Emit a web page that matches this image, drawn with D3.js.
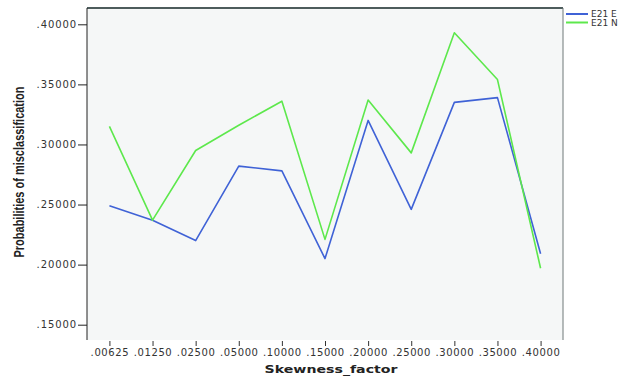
<!DOCTYPE html>
<html>
<head>
<meta charset="utf-8">
<script src="https://cdn.jsdelivr.net/npm/d3@7"></script>
<style>
  html, body { margin: 0; padding: 0; background: #ffffff; }
  svg { display: block; }
</style>
</head>
<body>
<svg id="chart" width="621" height="377"></svg>
<script>
// Skewness factor categories (x axis)
const categories = [".00625", ".01250", ".02500", ".05000", ".10000", ".15000",
                    ".20000", ".25000", ".30000", ".35000", ".40000"];

// Probabilities of misclassification per series
const seriesE = [0.249, 0.237, 0.220, 0.282, 0.278, 0.205, 0.320, 0.246, 0.335, 0.339, 0.209];
const seriesN = [0.315, 0.237, 0.295, 0.316, 0.336, 0.221, 0.337, 0.293, 0.393, 0.354, 0.197];

const seriesNames = ["E21 E", "E21 N"];
const seriesColors = ["#3f62d6", "#5de84c"];

// y axis ticks
const yTicks = [0.15, 0.20, 0.25, 0.30, 0.35, 0.40];

const svg = d3.select("#chart");

const frame = { left: 87, right: 563, top: 8, bottom: 340 };

const x = d3.scalePoint()
  .domain(categories)
  .range([frame.left, frame.right])
  .padding(0.52);

const y = d3.scaleLinear()
  .domain([0.15, 0.40])
  .range([324.7, 24.3]);

// plot background
svg.append("rect")
  .attr("x", frame.left)
  .attr("y", frame.top)
  .attr("width", frame.right - frame.left)
  .attr("height", frame.bottom - frame.top)
  .attr("fill", "#f5f7f7");

// frame edges
svg.append("line")
  .attr("x1", frame.left).attr("x2", frame.right)
  .attr("y1", frame.top).attr("y2", frame.top)
  .attr("stroke", "#4d5c5c").attr("stroke-width", 2);
svg.append("line")
  .attr("x1", frame.right).attr("x2", frame.right)
  .attr("y1", frame.top).attr("y2", frame.bottom)
  .attr("stroke", "#6e7878").attr("stroke-width", 1);

// y axis
const yAxis = d3.axisLeft(y)
  .tickValues(yTicks)
  .tickSize(9)
  .tickPadding(1)
  .tickFormat(d => d3.format(".5f")(d).replace(/^0/, ""));

const gy = svg.append("g")
  .attr("transform", `translate(${frame.left},0)`)
  .call(yAxis);
gy.select(".domain")
  .attr("d", `M0,${frame.top}V${frame.bottom}`)
  .attr("stroke", "#222");
gy.selectAll(".tick line").attr("stroke", "#222");
gy.selectAll(".tick text")
  .attr("font-family", "DejaVu Sans")
  .attr("font-size", 10)
  .attr("letter-spacing", 0.9)
  .attr("fill", "#333");

// x axis
const xAxis = d3.axisBottom(x)
  .tickSize(5)
  .tickPadding(3);

const gx = svg.append("g")
  .attr("transform", `translate(0,${frame.bottom + 1})`)
  .call(xAxis);
gx.select(".domain").remove();
gx.selectAll(".tick line").attr("stroke", "#333");
gx.selectAll(".tick text")
  .attr("font-family", "DejaVu Sans")
  .attr("font-size", 10)
  .attr("letter-spacing", 0.6)
  .attr("fill", "#333");

// axis titles
svg.append("text")
  .attr("x", 331)
  .attr("y", 373)
  .attr("text-anchor", "middle")
  .attr("font-family", "DejaVu Sans")
  .attr("font-weight", "bold")
  .attr("font-size", 11)
  .attr("textLength", 133)
  .attr("lengthAdjust", "spacingAndGlyphs")
  .attr("fill", "#222")
  .text("Skewness_factor");

svg.append("text")
  .attr("transform", "translate(24,172) rotate(-90)")
  .attr("text-anchor", "middle")
  .attr("font-family", "Liberation Sans Narrow, Liberation Sans")
  .attr("font-weight", "bold")
  .attr("font-size", 14)
  .attr("textLength", 171)
  .attr("lengthAdjust", "spacingAndGlyphs")
  .attr("fill", "#222")
  .text("Probabilities of misclassification");

// lines
const line = d3.line()
  .x((d, i) => x(categories[i]))
  .y(d => y(d));

[seriesE, seriesN].forEach((s, k) => {
  svg.append("path")
    .datum(s)
    .attr("d", line)
    .attr("fill", "none")
    .attr("stroke", seriesColors[k])
    .attr("stroke-width", 1.6)
    .attr("stroke-linejoin", "round");
});

// legend
const legend = svg.append("g");
seriesNames.forEach((name, k) => {
  const ly = 14 + k * 8.5;
  legend.append("line")
    .attr("x1", 566).attr("x2", 588)
    .attr("y1", ly).attr("y2", ly)
    .attr("stroke", seriesColors[k])
    .attr("stroke-width", 2);
  legend.append("text")
    .attr("x", 591)
    .attr("y", ly + 3)
    .attr("font-family", "DejaVu Sans")
    .attr("font-size", 9)
    .attr("fill", "#333")
    .text(name);
});
</script>
</body>
</html>
